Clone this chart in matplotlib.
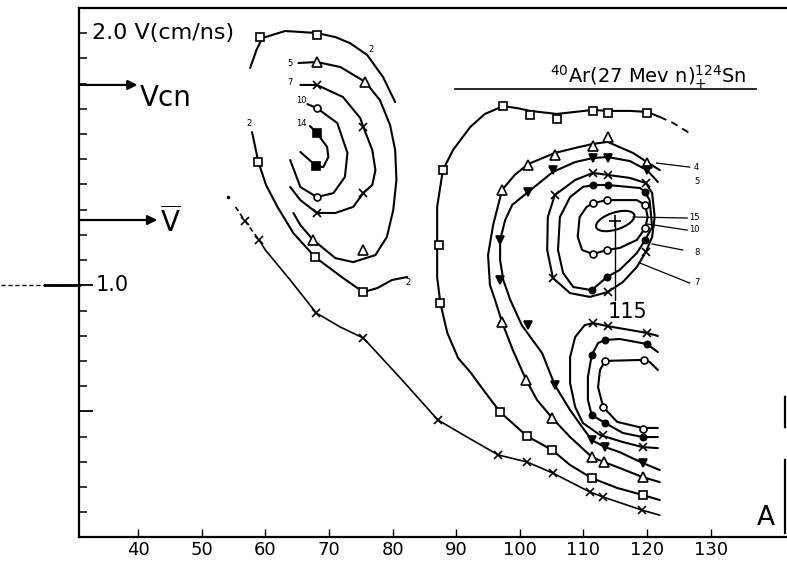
"""Invariant cross-section contours in the (A, V) plane for 40Ar (27 MeV/n) + 124Sn."""

import matplotlib.pyplot as plt
import matplotlib.transforms as mtransforms
from matplotlib.patches import Ellipse

# ---- light-fragment island (A ~ 55-82) ----
L2_TOP_A = [57.6, 58.6, 59.5, 63.1, 68.1, 71.0, 73.3, 76.0, 78.5, 80.4]
L2_TOP_V = [1.862, 1.934, 1.981, 2.009, 2.001, 1.985, 1.961, 1.914, 1.826, 1.727]
L2_LOW_A = [57.9, 58.9, 60.1, 61.9, 64.4, 67.8, 72.2, 75.4, 77.6, 79.9, 82.3]
L2_LOW_V = [1.608, 1.489, 1.398, 1.311, 1.207, 1.112, 1.029, 0.973, 0.989, 1.021, 1.033]
L2_PTS_A = [59.2, 68.1, 58.9, 67.8, 75.4]
L2_PTS_V = [1.985, 1.993, 1.489, 1.112, 0.973]

L5_A = [65.2, 68.1, 71.8, 75.7, 78.0, 79.6, 80.4, 80.6, 80.1, 79.1, 77.3, 73.8, 71.0, 67.5, 65.5, 64.4]
L5_V = [1.882, 1.886, 1.866, 1.807, 1.735, 1.636, 1.537, 1.418, 1.299, 1.192, 1.120, 1.092, 1.108, 1.180, 1.239, 1.287]
L5_PTS_A = [68.1, 75.7, 67.5, 75.4]
L5_PTS_V = [1.886, 1.807, 1.180, 1.140]

L7_A = [65.5, 68.1, 72.2, 74.9, 75.4, 76.8, 77.3, 76.8, 75.4, 73.8, 71.0, 68.1, 65.5, 63.9]
L7_V = [1.795, 1.795, 1.747, 1.664, 1.628, 1.537, 1.457, 1.398, 1.366, 1.311, 1.287, 1.287, 1.338, 1.390]
L7_PTS_A = [68.1, 75.4, 75.4, 68.1]
L7_PTS_V = [1.795, 1.628, 1.366, 1.287]

L10_A = [66.6, 68.1, 71.3, 72.9, 72.5, 70.7, 68.1, 65.5, 63.9]
L10_V = [1.719, 1.703, 1.644, 1.525, 1.430, 1.366, 1.350, 1.390, 1.497]
L10_PTS_A = [68.1, 68.1]
L10_PTS_V = [1.703, 1.350]

L14_A = [67.0, 68.1, 69.7, 69.9, 69.1, 68.0, 65.5]
L14_V = [1.632, 1.604, 1.549, 1.509, 1.469, 1.473, 1.529]
L14_PTS_A = [68.1, 68.0]
L14_PTS_V = [1.604, 1.473]

# lowest level, running along the bottom of both islands
LOW_A = [55.3, 56.8, 59.0, 60.0, 63.9, 68.0, 71.8, 75.4, 81.5, 84.3, 87.1, 91.7, 96.6,
         101.1, 105.2, 111.0, 113.1, 119.2, 122.0]
LOW_V = [1.311, 1.255, 1.180, 1.140, 1.021, 0.890, 0.834, 0.791, 0.624, 0.545, 0.466, 0.398, 0.327,
         0.299, 0.255, 0.180, 0.160, 0.108, 0.088]
LOW_PTS_A = [56.8, 59.0, 68.0, 75.4, 87.1, 96.6, 101.1, 105.2, 111.0, 113.1, 119.2]
LOW_PTS_V = [1.255, 1.180, 0.890, 0.791, 0.466, 0.327, 0.299, 0.255, 0.180, 0.160, 0.108]

# ---- heavy-fragment island (A ~ 87-122) ----
R2_A = [122.0, 119.3, 115.3, 111.3, 107.9, 105.1, 101.1, 96.9, 94.5, 92.2, 90.3, 88.6, 87.5, 87.0,
        87.0, 87.0, 87.9, 89.5, 92.2, 94.5, 97.4, 99.6, 101.6, 105.8, 108.7, 111.5, 113.8, 117.3,
        120.0, 122.0]
R2_V = [0.148, 0.168, 0.196, 0.235, 0.287, 0.346, 0.402, 0.497, 0.577, 0.656, 0.711, 0.811, 0.930,
        1.033, 1.160, 1.311, 1.457, 1.537, 1.628, 1.680, 1.711, 1.703, 1.692, 1.680, 1.688, 1.696,
        1.692, 1.692, 1.688, 1.668]
R2_TAIL_A = [122.0, 124.1, 127.2]
R2_TAIL_V = [1.668, 1.644, 1.596]
R2_PTS_A = [119.3, 111.3, 105.1, 101.1, 96.9, 87.5, 87.3, 87.9, 97.4, 101.6, 105.8, 111.5, 113.8, 120.0]
R2_PTS_V = [0.168, 0.235, 0.346, 0.402, 0.497, 0.930, 1.160, 1.457, 1.711, 1.676, 1.660, 1.692, 1.684, 1.684]

R4_A = [122.0, 119.3, 115.7, 113.2, 111.3, 107.9, 105.1, 102.7, 101.0, 98.9, 97.2, 96.1, 95.3, 95.0,
        95.8, 97.2, 99.2, 101.3, 105.5, 108.7, 111.5, 113.8, 117.8, 120.0, 122.0]
R4_V = [0.219, 0.239, 0.275, 0.299, 0.319, 0.398, 0.473, 0.545, 0.624, 0.743, 0.854, 0.942, 1.001, 1.120,
        1.239, 1.378, 1.438, 1.481, 1.525, 1.545, 1.561, 1.569, 1.525, 1.489, 1.457]
R4_PTS_A = [119.3, 113.2, 111.3, 105.1, 101.0, 97.2, 97.2, 101.3, 105.5, 111.5, 113.8, 120.0]
R4_PTS_V = [0.239, 0.299, 0.319, 0.473, 0.624, 0.854, 1.378, 1.477, 1.517, 1.553, 1.588, 1.485]

R5_A = [122.0, 119.3, 115.7, 113.4, 111.3, 109.9, 107.9, 105.5, 103.5, 100.3, 98.5, 97.4, 96.9, 96.9,
        97.7, 98.8, 101.3, 105.2, 108.7, 111.5, 113.8, 117.3, 120.0, 121.7]
R5_V = [0.267, 0.295, 0.338, 0.358, 0.386, 0.434, 0.505, 0.604, 0.731, 0.842, 0.942, 1.021, 1.100, 1.180,
        1.259, 1.319, 1.370, 1.450, 1.489, 1.505, 1.509, 1.493, 1.457, 1.410]
R5_PTS_A = [119.3, 113.4, 111.3, 105.5, 101.3, 96.9, 96.9, 101.3, 105.2, 111.5, 113.8, 120.0]
R5_PTS_V = [0.295, 0.358, 0.386, 0.604, 0.842, 1.021, 1.180, 1.370, 1.457, 1.505, 1.505, 1.457]

R7_A = [105.5, 108.7, 111.5, 113.8, 117.3, 119.8, 120.8, 121.2, 120.8, 119.8, 118.4, 116.2, 113.8,
        111.0, 107.9, 105.2, 104.3, 104.4, 105.5]
R7_V = [1.358, 1.418, 1.446, 1.438, 1.426, 1.406, 1.366, 1.271, 1.192, 1.132, 1.073, 1.013, 0.973,
        0.954, 0.969, 1.029, 1.140, 1.271, 1.358]
R7_PTS_A = [105.5, 111.5, 113.8, 119.8, 119.8, 113.8, 105.2]
R7_PTS_V = [1.358, 1.446, 1.438, 1.406, 1.132, 0.973, 1.029]

R8_A = [111.5, 113.8, 118.9, 119.7, 120.4, 120.8, 119.7, 118.4, 115.7, 113.7, 111.3, 108.4, 106.8,
        106.0, 106.3, 107.9, 109.9, 111.5]
R8_V = [1.398, 1.398, 1.386, 1.370, 1.338, 1.231, 1.180, 1.128, 1.061, 1.033, 0.981, 0.993, 1.049,
        1.140, 1.271, 1.350, 1.390, 1.398]
R8_PTS_A = [111.5, 113.8, 119.7, 119.7, 113.7, 111.3]
R8_PTS_V = [1.398, 1.398, 1.370, 1.180, 1.033, 0.981]

R10_A = [111.5, 113.7, 118.4, 119.7, 120.1, 119.7, 118.4, 115.7, 113.7, 111.5, 109.8, 109.1, 109.4, 110.5, 111.5]
R10_V = [1.326, 1.338, 1.338, 1.319, 1.271, 1.227, 1.180, 1.148, 1.140, 1.124, 1.140, 1.192, 1.271, 1.311, 1.326]
R10_PTS_A = [111.5, 113.7, 119.7, 119.7, 113.7, 111.5]
R10_PTS_V = [1.326, 1.338, 1.319, 1.227, 1.140, 1.124]

PEAK_A = 115
PEAK_V = 1.255
PEAK_DROP_V = 0.94

# lower pocket below the peak
Q7_A = [121.7, 120.0, 113.8, 111.5, 110.2, 108.7, 107.9, 107.9, 108.7, 109.9, 112.6, 116.2, 119.3, 121.7]
Q7_V = [0.799, 0.811, 0.838, 0.850, 0.842, 0.795, 0.715, 0.612, 0.517, 0.454, 0.406, 0.378, 0.358, 0.354]
Q7_PTS_A = [120.0, 113.8, 111.5, 113.1, 119.3]
Q7_PTS_V = [0.811, 0.838, 0.850, 0.406, 0.358]

Q8_A = [121.7, 120.0, 115.7, 113.4, 112.3, 111.3, 110.7, 110.7, 111.3, 113.4, 116.2, 119.3, 121.7]
Q8_V = [0.735, 0.767, 0.787, 0.783, 0.771, 0.723, 0.636, 0.545, 0.485, 0.454, 0.414, 0.398, 0.398]
Q8_PTS_A = [120.0, 113.4, 111.3, 111.3, 113.4, 119.3]
Q8_PTS_V = [0.767, 0.783, 0.723, 0.485, 0.454, 0.398]

Q10_A = [121.7, 120.4, 119.5, 113.4, 112.6, 112.3, 113.1, 115.3, 119.3, 121.7]
Q10_V = [0.664, 0.696, 0.704, 0.700, 0.664, 0.596, 0.517, 0.458, 0.434, 0.434]
Q10_PTS_A = [119.5, 113.4, 113.1, 119.3]
Q10_PTS_V = [0.704, 0.700, 0.517, 0.430]

# contour level labels: (text, A, V)
LEVEL_LABELS = [("2", 57.5, 1.643), ("2", 76.6, 1.935), ("2", 82.4, 1.010), ("5", 63.9, 1.882),
                ("7", 63.9, 1.803), ("10", 65.6, 1.735), ("14", 65.6, 1.644),
                ("4", 127.8, 1.469), ("5", 127.8, 1.410), ("15", 127.4, 1.271), ("10", 127.4, 1.223),
                ("8", 127.8, 1.132), ("7", 127.8, 1.013)]
LEADERS = [((121.5, 126.7), (1.485, 1.469)), ((117.8, 126.3), (1.271, 1.267)),
           ((120.1, 126.3), (1.243, 1.219)), ((120.8, 125.6), (1.164, 1.140)),
           ((118.9, 126.7), (1.088, 1.009))]

V_CN = 1.795
V_MEAN = 1.259
X_TICKS = [40, 50, 60, 70, 80, 90, 100, 110, 120, 130]


def curve(ax, a, v, pa=None, pv=None, marker=None, filled=False, ms=6, lw=1.5, ls="-"):
    ax.plot(a, v, color="black", lw=lw, ls=ls, solid_joinstyle="round", solid_capstyle="round")
    if pa is not None:
        ax.plot(pa, pv, ls="none", marker=marker, ms=ms, mec="black",
                mfc="black" if filled else "white", mew=1.2, zorder=3)


def main():
    fig = plt.figure(figsize=(7.87, 5.61), dpi=100)
    ax = fig.add_axes([0.1004, 0.0422, 0.8996, 0.9434])
    ax.set_xlim(30.7, 142.0)
    ax.set_ylim(0.0, 2.1)

    # light island
    curve(ax, L2_TOP_A, L2_TOP_V)
    curve(ax, L2_LOW_A, L2_LOW_V)
    ax.plot(L2_PTS_A, L2_PTS_V, ls="none", marker="s", ms=5.5, mfc="white", mec="black", mew=1.2, zorder=3)
    curve(ax, L5_A, L5_V, L5_PTS_A, L5_PTS_V, "^", ms=6.5)
    curve(ax, L7_A, L7_V, L7_PTS_A, L7_PTS_V, "x", ms=6)
    curve(ax, L10_A, L10_V, L10_PTS_A, L10_PTS_V, "o", ms=5)
    curve(ax, L14_A, L14_V, L14_PTS_A, L14_PTS_V, "s", filled=True, ms=5.5)

    curve(ax, LOW_A[:3], LOW_V[:3], lw=1.2, ls=(0, (3, 2)))
    curve(ax, LOW_A[2:], LOW_V[2:], LOW_PTS_A, LOW_PTS_V, "x", ms=6, lw=1.2)
    ax.plot([54.2], [1.350], marker=".", ms=3, color="black")

    # heavy island
    curve(ax, R2_A, R2_V, R2_PTS_A, R2_PTS_V, "s", ms=6)
    ax.plot(R2_TAIL_A, R2_TAIL_V, color="black", lw=1.3, ls=(0, (4, 3)))
    curve(ax, R4_A, R4_V, R4_PTS_A, R4_PTS_V, "^", ms=6.5)
    curve(ax, R5_A, R5_V, R5_PTS_A, R5_PTS_V, "v", filled=True, ms=6)
    curve(ax, R7_A, R7_V, R7_PTS_A, R7_PTS_V, "x", ms=6)
    curve(ax, R8_A, R8_V, R8_PTS_A, R8_PTS_V, "o", filled=True, ms=4.5)
    curve(ax, R10_A, R10_V, R10_PTS_A, R10_PTS_V, "o", ms=5)
    curve(ax, Q7_A, Q7_V, Q7_PTS_A, Q7_PTS_V, "x", ms=6)
    curve(ax, Q8_A, Q8_V, Q8_PTS_A, Q8_PTS_V, "o", filled=True, ms=4.5)
    curve(ax, Q10_A, Q10_V, Q10_PTS_A, Q10_PTS_V, "o", ms=5)

    # maximum: small tilted ellipse (drawn in screen inches so the tilt survives the axis scaling)
    peak_trans = fig.dpi_scale_trans + mtransforms.ScaledTranslation(PEAK_A, PEAK_V, ax.transData)
    ax.add_patch(Ellipse((0, 0), width=0.40, height=0.17, angle=18, transform=peak_trans,
                         fill=False, lw=1.5, ec="black"))
    ax.plot([PEAK_A], [PEAK_V], marker="+", ms=9, mew=1.2, color="black")
    ax.plot([PEAK_A, PEAK_A], [PEAK_V, PEAK_DROP_V], color="black", lw=1.0)
    ax.text(PEAK_A + 2.0, 0.894, str(PEAK_A), fontsize=15, ha="center", va="center")

    for text, a, v in LEVEL_LABELS:
        ax.text(a, v, text, fontsize=6, ha="center", va="center")
    for xs, ys in LEADERS:
        ax.plot(xs, ys, color="black", lw=0.9)

    # title with underline
    ax.text(104.7, 1.803, r"$^{40}$Ar(27 Mev n)$_{+}^{124}$Sn", fontsize=14,
            ha="left", va="baseline")
    ax.plot([89.8, 137.2], [1.779, 1.779], color="black", lw=1.2)

    # velocity markers on the left axis
    arrow = dict(arrowstyle="-|>", lw=1.6, color="black", mutation_scale=14, shrinkA=0, shrinkB=0)
    ax.annotate("", xy=(39.9, V_CN), xytext=(30.7, V_CN), arrowprops=arrow)
    ax.annotate("", xy=(43.0, V_MEAN), xytext=(30.7, V_MEAN), arrowprops=arrow)
    ax.text(40.2, 1.745, "Vcn", fontsize=20, ha="left", va="center")
    ax.text(43.4, 1.250, r"$\overline{\mathrm{V}}$", fontsize=20, ha="left", va="center")

    ax.text(32.8, 2.0, "2.0 V(cm/ns)", fontsize=16, ha="left", va="center")
    ax.text(33.3, 1.0, "1.0", fontsize=15, ha="left", va="center")
    ax.plot([18.5, 30.7], [1.0, 1.0], color="black", lw=1.0, ls=(0, (3, 2)), clip_on=False)
    ax.plot([25.4, 30.7], [1.0, 1.0], color="black", lw=2.0, clip_on=False)
    ax.text(138.7, 0.077, "A", fontsize=19, ha="center", va="center")

    # axes frame
    for side in ("left", "top", "bottom"):
        ax.spines[side].set_linewidth(1.6)
    ax.spines["right"].set_visible(False)
    ax.plot([141.7, 141.7], [0.438, 0.557], color="black", lw=1.6, clip_on=False)
    ax.plot([141.7, 141.7], [0.017, 0.307], color="black", lw=1.6, clip_on=False)

    ax.set_xticks(X_TICKS)
    ax.set_xticklabels([str(t) for t in X_TICKS], fontsize=13)
    ax.tick_params(axis="x", direction="in", length=6, width=1.0, pad=3)
    ax.set_yticks([0.5, 1.0])
    ax.set_yticks([0.1, 0.2, 0.3, 0.4, 0.6, 0.7, 0.8, 0.9, 1.1, 1.2, 1.3, 1.4,
                   1.5, 1.6, 1.7, 1.8, 1.9, 2.0], minor=True)
    ax.tick_params(axis="y", which="major", direction="in", length=10, width=1.3, labelleft=False)
    ax.tick_params(axis="y", which="minor", direction="in", length=6, width=1.1)

    fig.savefig("out.png", dpi=100)
    plt.close(fig)


if __name__ == "__main__":
    main()
